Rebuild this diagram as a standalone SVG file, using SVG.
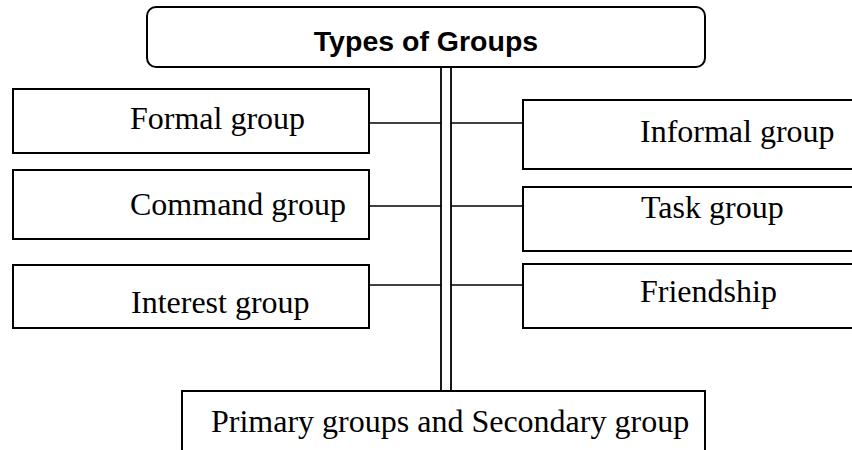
<svg xmlns="http://www.w3.org/2000/svg" width="852" height="450" viewBox="0 0 852 450">
<style>
  .box { fill: #ffffff; stroke: #000000; stroke-width: 2; }
  .lbl { font-family: "Liberation Serif", "Times New Roman", serif; font-size: 32px; fill: #000000; }
  .title { font-family: "Liberation Sans", Arial, sans-serif; font-size: 28.5px; font-weight: bold; fill: #000000; }
  .con { stroke: #000000; stroke-width: 1.4; fill: none; }
  .trunk { stroke: #000000; stroke-width: 1.8; fill: none; }
</style>
<rect width="852" height="450" fill="#ffffff"/>
<g id="connectors">
  <line class="trunk" x1="441" y1="67" x2="441" y2="391"/>
  <line class="trunk" x1="451" y1="67" x2="451" y2="391"/>
  <line class="con" x1="369" y1="123" x2="441" y2="123"/>
  <line class="con" x1="369" y1="206" x2="441" y2="206"/>
  <line class="con" x1="369" y1="285" x2="441" y2="285"/>
  <line class="con" x1="451" y1="123" x2="523" y2="123"/>
  <line class="con" x1="451" y1="206" x2="523" y2="206"/>
  <line class="con" x1="451" y1="285" x2="523" y2="285"/>
</g>
<g id="types">
  <rect class="box" x="147" y="7" width="558" height="60" rx="9" ry="9"/>
  <text class="title" x="426" y="51" text-anchor="middle">Types of Groups</text>
</g>
<g id="formal">
  <rect class="box" x="13" y="89" width="356" height="64"/>
  <text class="lbl" x="130" y="129">Formal group</text>
</g>
<g id="command">
  <rect class="box" x="13" y="170" width="356" height="69"/>
  <text class="lbl" x="130" y="215">Command group</text>
</g>
<g id="interest">
  <rect class="box" x="13" y="265" width="356" height="63"/>
  <text class="lbl" x="131" y="313">Interest group</text>
</g>
<g id="informal">
  <rect class="box" x="523" y="100" width="340" height="69"/>
  <text class="lbl" x="640" y="142">Informal group</text>
</g>
<g id="task">
  <rect class="box" x="523" y="187" width="340" height="64"/>
  <text class="lbl" x="641" y="218">Task group</text>
</g>
<g id="friendship">
  <rect class="box" x="523" y="264" width="340" height="64"/>
  <text class="lbl" x="640" y="302">Friendship</text>
</g>
<g id="primary">
  <rect class="box" x="182" y="391" width="523" height="70"/>
  <text class="lbl" x="211" y="432">Primary groups and Secondary group</text>
</g>
</svg>
